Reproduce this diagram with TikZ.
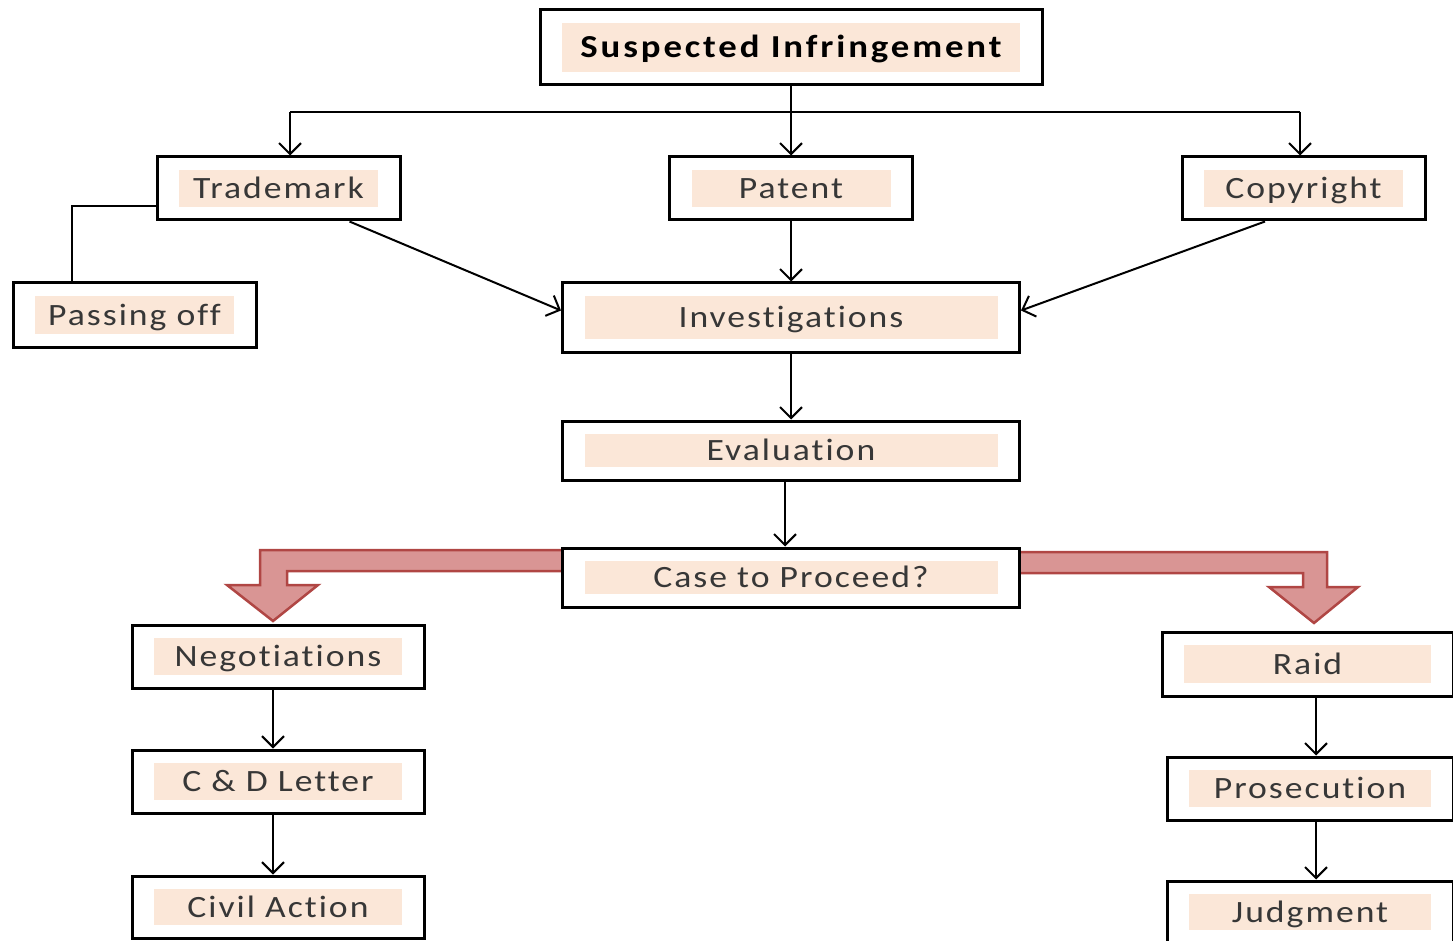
\documentclass[tikz,border=0pt]{standalone}
\usepackage{fontspec}
\setmainfont{Carlito}[LetterSpace=6.5,FakeStretch=1.15,Ligatures={NoCommon}]
\usetikzlibrary{arrows.meta}
\definecolor{peach}{RGB}{251,231,216}
\definecolor{bafill}{RGB}{217,149,148}
\definecolor{badraw}{RGB}{176,70,68}
\definecolor{txt}{RGB}{55,55,55}
\begin{document}
\begin{tikzpicture}[x=1pt,y=-1pt,
 box/.style={draw=black, line width=3pt, fill=white, rectangle, inner sep=0pt, text=txt,
   font=\fontsize{31}{36}\selectfont, text depth=1pt, text height=21pt,
   path picture={\fill[peach] ([shift={(22pt,-13pt)}]path picture bounding box.north west) rectangle ([shift={(-22pt,13pt)}]path picture bounding box.south east);}},
 sz/.style 2 args={minimum width=#1pt, minimum height=#2pt},
 conn/.style={draw=black, line width=2pt},
 arr/.style={conn, -{Straight Barb[length=11pt,width=22pt,line width=2pt]}},
 block/.style={fill=bafill, draw=badraw, line width=2.5pt, line join=miter}
]
\useasboundingbox (0,0) rectangle (1453,941);

% block arrows
\draw[block] (562,550) -- (260,550) -- (260,585) -- (227,585) -- (273,621) -- (318,585) -- (287,585) -- (287,571) -- (562,571);
\draw[block] (1019,552) -- (1327,552) -- (1327,587) -- (1358,587) -- (1314,623) -- (1269,587) -- (1303,587) -- (1303,573) -- (1019,573);

\node[box, sz={502}{75}, text=black, font=\fontsize{32}{36}\selectfont\bfseries\addfontfeatures{LetterSpace=9}] (sus) at (791,47.5) {Suspected Infringement};
\node[box, sz={243}{63}] (tm) at (278.5,188.5) {Trademark};
\node[box, sz={243}{63}] (pat) at (791,188.5) {Patent};
\node[box, sz={243}{63}] (copy) at (1303.5,188.5) {Copyright};
\node[box, sz={243}{64}] (pass) at (134.5,315) {Passing off};
\node[box, sz={457}{69}] (inv) at (791,317.5) {Investigations};
\node[box, sz={457}{59}] (eval) at (791,450.5) {Evaluation};
\node[box, sz={457}{59}] (case) at (791,577.5) {Case to Proceed?};
\node[box, sz={292}{63}] (neg) at (278,656.5) {Negotiations};
\node[box, sz={292}{63}] (cd) at (278,781.5) {C \& D Letter};
\node[box, sz={292}{62}] (civ) at (278,907) {Civil Action};
\node[box, sz={291}{64}] (raid) at (1307.5,664) {Raid};
\node[box, sz={286}{63}] (pros) at (1310,788.5) {Prosecution};
\node[box, sz={286}{62}] (judg) at (1310,912) {Judgment};

% top tree
\coordinate (bl) at (290,112);
\coordinate (br) at (1300,112);
\draw[conn] (sus.south) -- (sus.south |- bl);
\draw[conn] (bl) -- (br);
\draw[arr] (bl) -- (bl |- tm.north);
\draw[arr] (sus.south |- bl) -- (sus.south |- pat.north);
\draw[arr] (br) -- (br |- copy.north);

\draw[arr] (pat.south) -- (inv.north);
\draw[arr] ([xshift=71pt]tm.south) -- ([yshift=7pt]inv.west);
\draw[arr] ([xshift=-38.5pt]copy.south) -- ([yshift=7pt]inv.east);
\draw[conn] ([yshift=-18pt]tm.west) -| ([xshift=-62.5pt]pass.north);

\draw[arr] (inv.south) -- (eval.north);
\coordinate (e1) at ([xshift=-6pt]eval.south);
\draw[arr] (e1) -- (e1 |- case.north);

\coordinate (n1) at ([xshift=-5pt]neg.south);
\draw[arr] (n1) -- (n1 |- cd.north);
\coordinate (c1) at ([xshift=-5pt]cd.south);
\draw[arr] (c1) -- (c1 |- civ.north);

\coordinate (r1) at ([xshift=8.5pt]raid.south);
\draw[arr] (r1) -- (r1 |- pros.north);
\coordinate (p1) at ([xshift=6pt]pros.south);
\draw[arr] (p1) -- (p1 |- judg.north);
\end{tikzpicture}
\end{document}
